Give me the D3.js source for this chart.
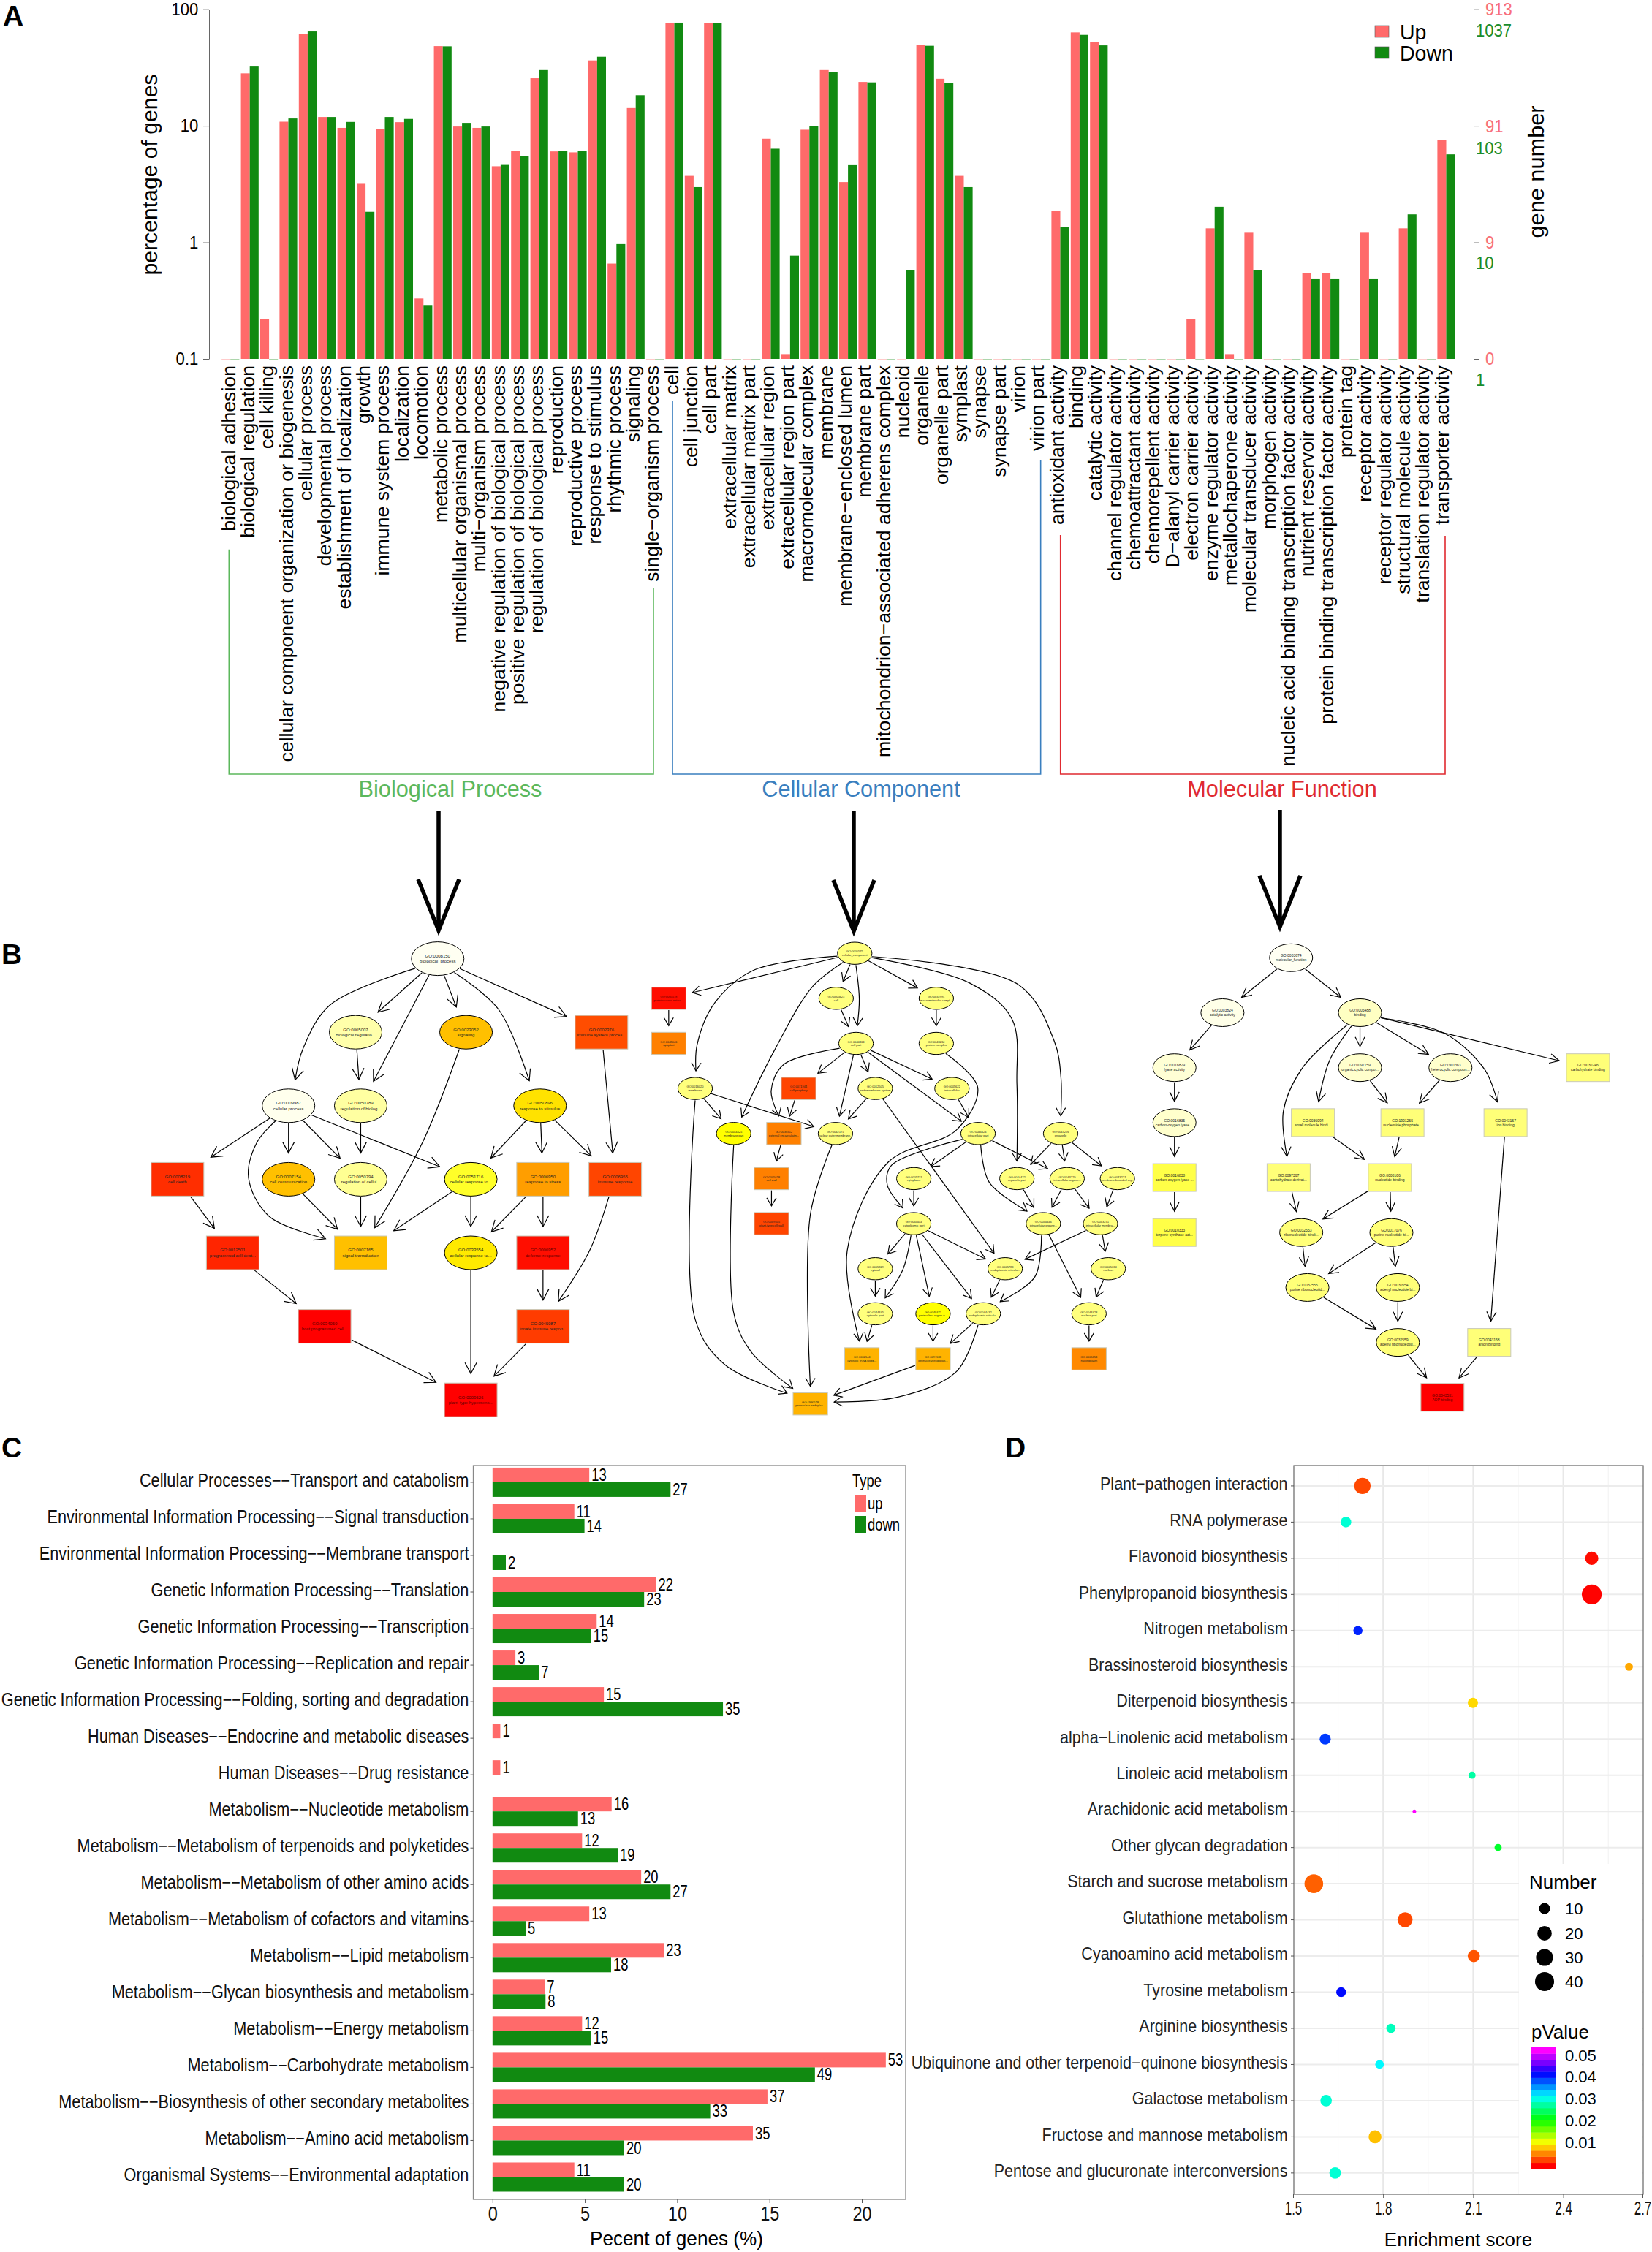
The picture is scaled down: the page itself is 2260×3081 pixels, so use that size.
<!DOCTYPE html>
<html><head><meta charset="utf-8">
<script src="https://cdn.jsdelivr.net/npm/d3@7"></script>
<style>html,body{margin:0;padding:0;background:#fff}svg{display:block}text{font-family:"Liberation Sans",Arial,sans-serif}</style>
</head><body><svg id="c" width="2260" height="3081"></svg>
<script>
// ---------- Panel A data ----------
const goCategories = ["biological adhesion","biological regulation","cell killing","cellular component organization or biogenesis","cellular process","developmental process","establishment of localization","growth","immune system process","localization","locomotion","metabolic process","multicellular organismal process","multi−organism process","negative regulation of biological process","positive regulation of biological process","regulation of biological process","reproduction","reproductive process","response to stimulus","rhythmic process","signaling","single−organism process","cell","cell junction","cell part","extracellular matrix","extracellular matrix part","extracellular region","extracellular region part","macromolecular complex","membrane","membrane−enclosed lumen","membrane part","mitochondrion−associated adherens complex","nucleoid","organelle","organelle part","symplast","synapse","synapse part","virion","virion part","antioxidant activity","binding","catalytic activity","channel regulator activity","chemoattractant activity","chemorepellent activity","D−alanyl carrier activity","electron carrier activity","enzyme regulator activity","metallochaperone activity","molecular transducer activity","morphogen activity","nucleic acid binding transcription factor activity","nutrient reservoir activity","protein binding transcription factor activity","protein tag","receptor activity","receptor regulator activity","structural molecule activity","translation regulator activity","transporter activity"];
const goUp = [0.1,28.2,0.22,10.85,61.5,11.9,9.6,3.18,9.44,10.75,0.33,48.3,9.86,9.6,4.5,6.12,25.6,6.03,5.92,36.4,0.658,14.2,0.1,76,3.72,75.7,0.1,0.1,7.75,0.11,9.26,30.1,3.29,23.8,0.1,0.1,49.5,25.3,3.72,0.1,0.1,0.1,0.1,1.86,63.3,52.7,0.1,0.1,0.1,0.1,0.22,1.32,0.11,1.21,0.1,0.1,0.548,0.548,0.1,1.21,0.1,1.32,0.1,7.56];
const goDown = [0.1,32.7,0.1,11.56,64.5,11.9,10.8,1.83,11.9,11.45,0.29,48.1,10.6,9.86,4.62,5.5,30.1,6.06,6.06,39.1,0.967,18.3,0.1,76.8,2.98,76,0.1,0.1,6.36,0.77,10,29,4.6,23.6,0.1,0.58,48.6,23.2,2.98,0.1,0.1,0.1,0.1,1.35,60.3,49,0.1,0.1,0.1,0.1,0.1,2.02,0.1,0.58,0.1,0.1,0.483,0.483,0.1,0.483,0.1,1.74,0.1,5.69];
const goTicks = [100,10,1,0.1];
const upNumberLabels = ["913","91","9","0"];
const downNumberLabels = ["1037","103","10","1"];
const goGroups = [["Biological Process",0,22,"#5cb85c"],["Cellular Component",23,42,"#3a7fbf"],["Molecular Function",43,63,"#e02a30"]];

// ---------- Panel B data: [id, name, isBox, layoutX, rank, significance] ----------
const bpNodes = [
["0008150","biological_process",0,781,0,0],["0065007","biological regulatio...",0,506,1,.15],["0023052","signaling",0,876,1,.55],["0002376","immune system proces...",1,1330,1,.83],
["0009987","cellular process",0,281,2,.01],["0050789","regulation of biolog...",0,523,2,.17],["0050896","response to stimulus",0,1124,2,.47],
["0008219","cell death",1,-91,3,.9],["0007154","cell communication",0,281,3,.55],["0050794","regulation of cellul...",0,523,3,.2],["0051716","cellular response to...",0,892,3,.36],["0006950","response to stress",1,1134,3,.63],["0006955","immune response",1,1376,3,.85],
["0012501","programmed cell deat...",1,94,4,.92],["0007165","signal transduction",1,523,4,.55],["0033554","cellular response to...",0,892,4,.45],["0006952","defense response",1,1134,4,.97],
["0034050","host programmed cell...",1,402,5,1],["0045087","innate immune respon...",1,1134,5,.87],["0009626","plant-type hypersens...",1,892,6,1]];
const bpEdges = [
["0008150","0065007"],["0008150","0009987",[420,.63],[330,1.22]],["0008150","0050789"],["0008150","0023052"],["0008150","0050896",[985,.69]],["0008150","0002376"],["0065007","0050789"],
["0009987","0008219"],["0009987","0007154"],["0009987","0050794"],["0009987","0051716"],["0009987","0007165",[175,2.5],[147,2.98],[215,3.5]],["0050789","0050794"],["0023052","0007165",[730,2.5]],
["0050896","0051716"],["0050896","0006950"],["0050896","0006955"],["0002376","0006955"],["0008219","0012501"],["0007154","0007165"],["0050794","0007165"],["0051716","0007165"],["0051716","0033554"],
["0006950","0033554"],["0006950","0006952"],["0006955","0045087",[1290,3.97]],["0012501","0034050"],["0006952","0045087"],["0034050","0009626"],["0033554","0009626"],["0045087","0009626"]];
const ccNodes = [
["0005575","cellular_component",0,648,0,.25],["0005578","proteinaceous extrac...",1,78,1,.97],["0005623","cell",0,591,1,.25],["0032991","macromolecular compl...",0,898,1,.25],
["0048046","apoplast",1,78,2,.7],["0044464","cell part",0,652,2,.25],["0043234","protein complex",0,898,2,.25],
["0016020","membrane",0,159,3,.25],["0071944","cell periphery",1,476,3,.85],["0012505","endomembrane system",0,711,3,.25],["0005622","intracellular",0,946,3,.25],
["0044425","membrane part",0,277,4,.4],["0030312","external encapsulatin...",1,431,4,.7],["0042175","nuclear outer membrane...",0,589,4,.25],["0044424","intracellular part",0,1026,4,.25],["0043226","organelle",0,1279,4,.25],
["0005618","cell wall",1,393,5,.7],["0005737","cytoplasm",0,829,5,.25],["0044422","organelle part",0,1145,5,.25],["0043229","intracellular organe...",0,1299,5,.25],["0043227","membrane-bounded org...",0,1453,5,.25],
["0009505","plant-type cell wall",1,393,6,.85],["0044444","cytoplasmic part",0,829,6,.25],["0044446","intracellular organe...",0,1226,6,.25],["0043231","intracellular membra...",0,1401,6,.25],
["0005829","cytosol",0,711,7,.25],["0005783","endoplasmic reticulu...",0,1109,7,.25],["0005634","nucleus",0,1425,7,.25],
["0044445","cytosolic part",0,711,8,.25],["0048471","perinuclear region o...",0,888,8,.4],["0044432","endoplasmic reticulu...",0,1042,8,.25],["0044428","nuclear part",0,1366,8,.25],
["0002144","cytosolic tRNA wobb...",1,670,9,.58],["0097038","perinuclear endoplas...",1,888,9,.58],["0005654","nucleoplasm",1,1366,9,.68],
["1990578","perinuclear endoplas...",1,512,10,.58]];
const ccEdges = [
["0005575","0016020",[340,.37],[220,1.09],[165,2.03]],["0005575","0005578"],["0005575","0044425",[520,.73],[400,2.18]],["0005575","0005623"],["0005575","0044464",[662,1.02]],["0005575","0032991"],
["0005575","0044422",[1000,.66],[1130,1.46],[1145,2.9]],["0005575","0043226",[1150,.7],[1260,1.96],[1280,2.76]],["0005578","0048046"],["0005623","0044464"],["0032991","0043234"],
["0044464","0071944"],["0044464","0030312",[430,2.47],[392,3.05]],["0044464","0042175"],["0044464","0012505"],["0044464","0005622"],["0044464","0044424"],
["0043234","0002144",[1025,2.98],[960,3.92],[750,4.64],[625,6.6]],["0016020","0044425"],["0016020","0042175"],["0016020","1990578",[159,8.12],[250,9.13]],["0071944","0030312"],["0012505","0042175"],["0012505","0005783"],["0005622","0044424"],
["0044425","1990578",[277,7.97],[330,8.84]],["0030312","0005618"],["0005618","0009505"],["0042175","1990578",[512,5.8]],
["0044424","0005737"],["0044424","0044444",[760,4.71],[748,5.15]],["0044424","0044446",[1060,5.08]],["0044424","0043229"],["0043226","0044422"],["0043226","0043229"],["0043226","0043227"],["0005737","0044444"],
["0044422","0044446"],["0043229","0044446"],["0043229","0043231"],["0043227","0043231"],["0044444","0005829"],["0044444","0044445",[795,7.03]],["0044444","0048471"],["0044444","0044432"],["0044444","0005783"],
["0044446","0044432",[1200,7.18]],["0044446","0044428"],["0043231","0005783"],["0043231","0005634"],["0005829","0044445"],["0005783","0044432"],["0005634","0044428"],
["0044445","0002144"],["0048471","0097038"],["0044432","0097038"],["0044432","1990578",[960,9.28],[780,9.85]],["0097038","1990578"],["0044428","0005654"]];
const mfNodes = [
["0003674","molecular_function",0,490,0,0],["0003824","catalytic activity",0,267,1,.02],["0005488","binding",0,714,1,.1],
["0016829","lyase activity",0,111,2,.06],["0097159","organic cyclic compo...",0,714,2,.08],["1901363","heterocyclic compoun...",0,1008,2,.08],["0030246","carbohydrate binding",1,1455,2,.26],
["0016835","carbon-oxygen lyase ...",0,111,3,.08],["0036094","small molecule bindi...",1,561,3,.26],["1901265","nucleoside phosphate...",1,852,3,.26],["0043167","ion binding",1,1187,3,.26],
["0016838","carbon-oxygen lyase ...",1,111,4,.33],["0097367","carbohydrate derivat...",1,482,4,.26],["0000166","nucleotide binding",1,811,4,.26],
["0010333","terpene synthase act...",1,111,5,.33],["0032553","ribonucleotide bindi...",0,523,5,.26],["0017076","purine nucleotide bi...",0,816,5,.26],
["0032555","purine ribonucleotid...",0,543,6,.26],["0030554","adenyl nucleotide bi...",0,837,6,.26],["0032559","adenyl ribonucleotid...",0,837,7,.26],["0043168","anion binding",1,1134,7,.26],["0043531","ADP binding",1,982,8,1]];
const mfEdges = [
["0003674","0003824"],["0003674","0005488"],["0003824","0016829"],["0016829","0016835"],["0016835","0016838"],["0016838","0010333"],["0005488","0097159"],["0005488","1901363"],["0005488","0030246"],
["0005488","0036094",[615,1.87]],["0005488","0097367",[530,1.98],[465,2.79]],["0005488","0043167",[990,1.38],[1120,2.04]],["0097159","1901265"],["1901363","1901265"],["0036094","0000166"],["1901265","0000166"],
["0097367","0032553"],["0000166","0032553"],["0000166","0017076"],["0032553","0032555"],["0017076","0032555"],["0017076","0030554"],["0032555","0032559"],["0030554","0032559"],["0043167","0043168"],["0032559","0043531"],["0043168","0043531"]];

// ---------- Panel C data ----------
const keggClasses = ["Cellular Processes−−Transport and catabolism","Environmental Information Processing−−Signal transduction","Environmental Information Processing−−Membrane transport","Genetic Information Processing−−Translation","Genetic Information Processing−−Transcription","Genetic Information Processing−−Replication and repair","Genetic Information Processing−−Folding, sorting and degradation","Human Diseases−−Endocrine and metabolic diseases","Human Diseases−−Drug resistance","Metabolism−−Nucleotide metabolism","Metabolism−−Metabolism of terpenoids and polyketides","Metabolism−−Metabolism of other amino acids","Metabolism−−Metabolism of cofactors and vitamins","Metabolism−−Lipid metabolism","Metabolism−−Glycan biosynthesis and metabolism","Metabolism−−Energy metabolism","Metabolism−−Carbohydrate metabolism","Metabolism−−Biosynthesis of other secondary metabolites","Metabolism−−Amino acid metabolism","Organismal Systems−−Environmental adaptation"];
const keggUpPct = [5.24,4.43,0,8.86,5.64,1.24,6.03,.42,.42,6.45,4.85,8.05,5.24,9.28,2.83,4.85,21.3,14.89,14.1,4.43];
const keggDownPct = [9.64,4.98,.72,8.21,5.34,2.51,12.48,0,0,4.63,6.78,9.64,1.79,6.42,2.87,5.34,17.46,11.79,7.13,7.13];
const keggUpN = [13,11,0,22,14,3,15,1,1,16,12,20,13,23,7,12,53,37,35,11];
const keggDownN = [27,14,2,23,15,7,35,0,0,13,19,27,5,18,8,15,49,33,20,20];
const keggXTicks = [0,5,10,15,20];

// ---------- Panel D data ----------
const pathways = ["Plant−pathogen interaction","RNA polymerase","Flavonoid biosynthesis","Phenylpropanoid biosynthesis","Nitrogen metabolism","Brassinosteroid biosynthesis","Diterpenoid biosynthesis","alpha−Linolenic acid metabolism","Linoleic acid metabolism","Arachidonic acid metabolism","Other glycan degradation","Starch and sucrose metabolism","Glutathione metabolism","Cyanoamino acid metabolism","Tyrosine metabolism","Arginine biosynthesis","Ubiquinone and other terpenoid−quinone biosynthesis","Galactose metabolism","Fructose and mannose metabolism","Pentose and glucuronate interconversions"];
const enrichment = [1.731,1.676,2.495,2.495,1.716,2.619,2.099,1.607,2.096,1.904,2.183,1.569,1.873,2.102,1.660,1.826,1.788,1.610,1.773,1.640];
const pathwayCount = [27,9,16,44,6,4,8,10,3,1,3,38,22,13,7,6,5,11,15,11];
const pathwayP = [.003,.030,.0005,.0001,.041,.007,.009,.040,.028,.053,.023,.004,.003,.0035,.042,.029,.032,.030,.008,.030];
const enrichTicks = [1.5,1.8,2.1,2.4,2.7];
const enrichMinor = [1.65,1.95,2.25,2.55];
const numberLegend = [10,20,30,40];
const pLegend = [.05,.04,.03,.02,.01];

// ---------- helpers ----------
const svg = d3.select("#c");
const UP="#ff6a6a", DOWN="#118a11", UPTXT="#f8707a", DOWNTXT="#1a8c2a";
const probe = svg.append("text").attr("opacity",0);
function measure(s,fs,weight){probe.attr("font-size",fs).attr("font-weight",weight||"normal").text(s);return probe.node().getComputedTextLength();}
function label(g,x,y,s,o={}){
  const t=g.append("text").attr("font-size",o.fs||24).attr("text-anchor",o.anchor||"start").attr("dy",o.dy||"0.35em").attr("fill",o.fill||"#000").text(s);
  if(o.weight)t.attr("font-weight",o.weight);
  t.attr("transform",`translate(${x},${y})${o.rot?` rotate(${o.rot})`:""} scale(${o.sx||1},1)`);
  return t;
}
function squeezeAxis(g,sx){g.selectAll("text").attr("transform",`scale(${sx},1)`);}
const g=svg.append("g");

// panel letters
[["A",4,35],["B",2,1319],["C",2,1994],["D",1375,1994]].forEach(d=>g.append("text").attr("x",d[1]).attr("y",d[2]).attr("font-size",39).attr("font-weight","bold").text(d[0]));

// ---------- Panel A ----------
const A=svg.append("g");
const xA=d3.scaleBand().domain(goCategories).range([302.1,1991.7]);
const xAlabel=d3.scaleLinear().domain([0,63]).range([321.7,1981.7]);
const yA=d3.scaleLog().domain([0.1,100]).range([491,12.7]);
const barW=12.1;
function barsA(vals,fill,off){
  A.append("g").selectAll("rect").data(vals).join("rect")
   .attr("x",(d,i)=>xA(goCategories[i])+xA.bandwidth()/2+off)
   .attr("width",barW)
   .attr("y",d=>yA(d)).attr("height",d=>Math.max(yA(0.1)-yA(d),1.2))
   .attr("fill",fill).attr("opacity",d=>d<=0.1?0.35:1);
}
barsA(goUp,UP,-barW); barsA(goDown,DOWN,0);
const axL=A.append("g").attr("transform","translate(286,0)").call(d3.axisLeft(yA).tickValues(goTicks).tickFormat(d=>d).tickSize(8).tickSizeOuter(0).tickPadding(8));
axL.selectAll("text").attr("font-size",24).attr("font-family",null);
squeezeAxis(axL,.92);
axL.selectAll("path,line").attr("stroke","#666");
const axR=A.append("g").attr("transform","translate(2016,0)").call(d3.axisRight(yA).tickValues(goTicks).tickFormat("").tickSize(8).tickSizeOuter(0));
axR.selectAll("path,line").attr("stroke","#666");
goTicks.forEach((t,i)=>{
  label(A,2032,yA(t),upNumberLabels[i],{fill:UPTXT,sx:.92});
  label(A,2019,yA(t)+(i==0?29:i==1?30:i==2?28:29),downNumberLabels[i],{fill:DOWNTXT,sx:.92});
});
label(A,205,239,"percentage of genes",{fs:29,rot:-90,anchor:"middle",sx:1.04});
label(A,2102,235,"gene number",{fs:29,rot:-90,anchor:"middle",sx:1.06});
[["Up",UP,43],["Down",DOWN,72]].forEach(d=>{
  A.append("rect").attr("x",1881).attr("width",19).attr("y",d[2]-8).attr("height",16).attr("fill",d[1]).attr("stroke","#555").attr("stroke-width",.6);
  label(A,1915,d[2],d[0],{fs:30,sx:.95});
});
const sxA=543/measure(goCategories[3],26);
goCategories.forEach((c,i)=>{
  label(A,xAlabel(i),500,c,{fs:26,rot:-90,anchor:"end",sx:sxA,dy:"0"});
});
const bracketTops=[[751.7,804],[549,629],[732,733]];
const bracketInset=[[8.4,7.4],[7.7,4.7],[4,4.7]];
goGroups.forEach((d,i)=>{
  const x0=xAlabel(d[1])-bracketInset[i][0], x1=xAlabel(d[2])-bracketInset[i][1];
  A.append("path").attr("fill","none").attr("stroke",d[3]).attr("stroke-width",1.6)
   .attr("d",d3.line()([[x0,bracketTops[i][0]],[x0,1059],[x1,1059],[x1,bracketTops[i][1]]]));
  label(A,[616,1178,1754][i],1079,d[0],{fs:32,anchor:"middle",fill:d[3],sx:.96});
});
// big arrows
[[600,1110,1277],[1168,1110,1278],[1751,1108,1272]].forEach(d=>{
  A.append("path").attr("fill","none").attr("stroke","#000").attr("stroke-width",5.5).attr("stroke-linejoin","miter")
   .attr("d",`M${d[0]},${d[1]}V${d[2]-4}M${d[0]-28},${d[2]-74}L${d[0]},${d[2]-4}L${d[0]+28},${d[2]-74}`);
});

// ---------- Panel B ----------
const sigColor=d3.scaleLinear().domain([0,.15,.3,.4,.55,.7,.85,1]).range(["#fffff2","#ffffaa","#ffff66","#ffff00","#ffc000","#ff8000","#ff4500","#ff0000"]);
function graph(nodes,edges,xDom,xRange,rankMax,yRange,rx,ry,fs,gap,headLen,headHalf,lineGap){
  const G=svg.append("g");
  const sx=d3.scaleLinear().domain(xDom).range(xRange);
  const sy=d3.scaleLinear().domain([0,rankMax]).range(yRange);
  const byId=new Map(nodes.map(n=>[n[0],{id:n[0],name:n[1],box:n[2],x:sx(n[3]),y:sy(n[4]),sig:n[5]}]));
  const border=(n,px,py,extra)=>{
    const dx=px-n.x,dy=py-n.y; const len=Math.hypot(dx,dy)||1;
    const t=n.box?Math.min(rx/Math.abs(dx||1e-6),ry/Math.abs(dy||1e-6)):1/Math.hypot(dx/rx,dy/ry);
    const e=extra/len;
    return [n.x+dx*(t+e),n.y+dy*(t+e)];
  };
  const curve=d3.line().curve(d3.curveCatmullRom.alpha(.5));
  edges.forEach(e=>{
    const a=byId.get(e[0]),b=byId.get(e[1]);
    const via=e.slice(2).map(p=>[sx(p[0]),sy(p[1])]);
    const first=via.length?via[0]:[b.x,b.y], last=via.length?via[via.length-1]:[a.x,a.y];
    const st=border(a,first[0],first[1],1), en=border(b,last[0],last[1],gap);
    const pts=[st,...via,en];
    G.append("path").attr("fill","none").attr("stroke","#000").attr("stroke-width",1.2).attr("d",via.length?curve(pts):d3.line()(pts));
    const pv=via.length?via[via.length-1]:st;
    const ang=Math.atan2(en[1]-pv[1],en[0]-pv[0]);
    const c=Math.cos(ang),s=Math.sin(ang);
    const w1=[en[0]-headLen*c-headHalf*s,en[1]-headLen*s+headHalf*c],w2=[en[0]-headLen*c+headHalf*s,en[1]-headLen*s-headHalf*c];
    G.append("path").attr("fill","none").attr("stroke","#000").attr("stroke-width",1.2).attr("d",d3.line()([w1,en,w2]));
  });
  byId.forEach(n=>{
    if(n.box) G.append("rect").attr("x",n.x-rx).attr("y",n.y-ry).attr("width",2*rx).attr("height",2*ry).attr("fill",sigColor(n.sig)).attr("stroke","#c9c9b8").attr("stroke-width",1);
    else G.append("ellipse").attr("cx",n.x).attr("cy",n.y).attr("rx",rx).attr("ry",ry).attr("fill",sigColor(n.sig)).attr("stroke","#000").attr("stroke-width",1);
    const tc=n.sig>=.95?"#5a0000":"#222";
    G.append("text").attr("x",n.x).attr("y",n.y-lineGap/2).attr("dy",".35em").attr("text-anchor","middle").attr("font-size",fs).attr("fill",tc).text("GO:"+n.id);
    G.append("text").attr("x",n.x).attr("y",n.y+lineGap/2).attr("dy",".35em").attr("text-anchor","middle").attr("font-size",fs).attr("fill",tc).text(n.name);
  });
}
graph(bpNodes,bpEdges,[0,1568],[280,920],6,[1311.6,1915.2],36,23,6,13,15,8,7.4);
graph(ccNodes,ccEdges,[0,1568],[880,1580],10,[1304.2,1920.7],23.6,15.2,4,9,11,6.5,4.6);
graph(mfNodes,mfEdges,[0,1568],[1560,2220],8,[1310.3,1911.8],29.5,19,5,10,13,6.5,6);

// ---------- Panel C ----------
const C=svg.append("g");
const xC=d3.scaleLinear().domain([0,20]).range([673.8,1179]);
const yC=d3.scaleBand().domain(keggClasses).range([2002.9,3003.5]);
const cBar=20;
const rowC=c=>yC(c)+yC.bandwidth()/2;
C.append("g").selectAll("rect").data(keggUpPct).join("rect").attr("x",xC(0)).attr("y",(d,i)=>rowC(keggClasses[i])-cBar).attr("width",d=>xC(d)-xC(0)).attr("height",cBar).attr("fill",UP);
C.append("g").selectAll("rect").data(keggDownPct).join("rect").attr("x",xC(0)).attr("y",(d,i)=>rowC(keggClasses[i])).attr("width",d=>xC(d)-xC(0)).attr("height",cBar).attr("fill",DOWN);
keggClasses.forEach((c,i)=>{
  if(keggUpN[i]) label(C,xC(keggUpPct[i])+3,rowC(c)-cBar/2,keggUpN[i],{fs:23,sx:.8});
  if(keggDownN[i]) label(C,xC(keggDownPct[i])+3,rowC(c)+cBar/2,keggDownN[i],{fs:23,sx:.8});
});
C.append("rect").attr("x",647.5).attr("y",2005).attr("width",591.5).attr("height",1004).attr("fill","none").attr("stroke","#888").attr("stroke-width",1.3);
const sxC=640/measure(keggClasses[6],25);
const acl=C.append("g").attr("transform","translate(647.5,0)").call(d3.axisLeft(yC).tickSize(4).tickPadding(3));
acl.select("path").remove();acl.selectAll("line").attr("stroke","#555");
acl.selectAll("text").attr("font-size",25).attr("font-family",null).attr("fill","#111").attr("dy",".24em").attr("transform",`scale(${sxC},1)`);
const acb=C.append("g").attr("transform","translate(0,3009)").call(d3.axisBottom(xC).tickValues(keggXTicks).tickSize(5).tickPadding(5));
acb.select("path").remove();acb.selectAll("line").attr("stroke","#555");
acb.selectAll("text").attr("font-size",27).attr("font-family",null).attr("fill","#111").attr("transform","scale(.87,1)");
label(C,925.5,3063,"Pecent of genes (%)",{fs:27,anchor:"middle",sx:.97});
label(C,1166,2026,"Type",{fs:23,sx:.8});
[["up",UP,2057],["down",DOWN,2086]].forEach(d=>{
  C.append("rect").attr("x",1169).attr("y",d[2]-12).attr("width",16).attr("height",24).attr("fill",d[1]);
  label(C,1187,d[2],d[0],{fs:23,sx:.8});
});

// ---------- Panel D ----------
const D=svg.append("g");
const xD=d3.scaleLinear().domain([1.5,2.664]).range([1769,2247]).clamp(true);
const yD=d3.scaleBand().domain(pathways).range([2008.2,2997.6]);
const rowD=c=>yD(c)+yD.bandwidth()/2;
enrichMinor.forEach(v=>D.append("line").attr("x1",xD(v)).attr("x2",xD(v)).attr("y1",2005).attr("y2",3002).attr("stroke","#f1f1f1").attr("stroke-width",1));
enrichTicks.slice(1,4).forEach(v=>D.append("line").attr("x1",xD(v)).attr("x2",xD(v)).attr("y1",2005).attr("y2",3002).attr("stroke","#e8e8e8").attr("stroke-width",2));
pathways.forEach(c=>D.append("line").attr("x1",1770).attr("x2",2248).attr("y1",rowD(c)).attr("y2",rowD(c)).attr("stroke","#ececec").attr("stroke-width",2));
D.append("rect").attr("x",2078).attr("y",2550).attr("width",168).attr("height",451).attr("fill","#fff");
const sizeT=d3.scaleLinear().domain([0,1]).range([2.5,13.6]);
const radius=n=>sizeT(Math.sqrt((n-1)/43));
const pHue=d3.scaleLinear().domain([0,.053]).range([0,300]);
const pColor=p=>d3.hsl(pHue(p),1,.5).formatHex();
D.append("g").selectAll("circle").data(pathways).join("circle").attr("cx",(d,i)=>xD(enrichment[i])).attr("cy",d=>rowD(d)).attr("r",(d,i)=>radius(pathwayCount[i])).attr("fill",(d,i)=>pColor(pathwayP[i]));
D.append("rect").attr("x",1770).attr("y",2005).attr("width",478).attr("height",997).attr("fill","none").attr("stroke","#666").attr("stroke-width",1.2);
const adl=D.append("g").attr("transform","translate(1770,0)").call(d3.axisLeft(yD).tickSize(4).tickPadding(5));
adl.select("path").remove();adl.selectAll("line").attr("stroke","#555");
const sxD=402/measure(pathways[19],23);
adl.selectAll("text").attr("font-size",23).attr("font-family",null).attr("fill","#222").attr("dy",".23em").attr("transform",`scale(${sxD},1)`);
const adb=D.append("g").attr("transform","translate(0,3002)").call(d3.axisBottom(xD).tickValues(enrichTicks).tickFormat(d3.format(".1f")).tickSize(5).tickPadding(5));
adb.select("path").remove();adb.selectAll("line").attr("stroke","#555");
adb.selectAll("text").attr("font-size",25).attr("font-family",null).attr("fill","#111").attr("transform","scale(.68,1)");
label(D,1995,3064,"Enrichment score",{fs:26,anchor:"middle"});
label(D,2092,2575,"Number",{fs:26});
numberLegend.forEach((n,i)=>{
  const y=[2611,2645,2678,2711][i];
  D.append("circle").attr("cx",2113).attr("cy",y).attr("r",radius(n)).attr("fill","#000");
  label(D,2141,y,n,{fs:22});
});
label(D,2095,2780,"pValue",{fs:26});
const barSteps=d3.range(20);
const stepH=166/20;
D.append("g").selectAll("rect").data(barSteps).join("rect").attr("x",2095).attr("width",33).attr("y",d=>2967-(d+1)*stepH).attr("height",stepH+.4).attr("fill",d=>d3.hsl(d/19*300,1,.5).formatHex());
const yP=d3.scaleLinear().domain([.01,.05]).range([2931,2812]);
pLegend.forEach(p=>label(D,2141,yP(p),p.toFixed(2),{fs:22}));
</script></body></html>
